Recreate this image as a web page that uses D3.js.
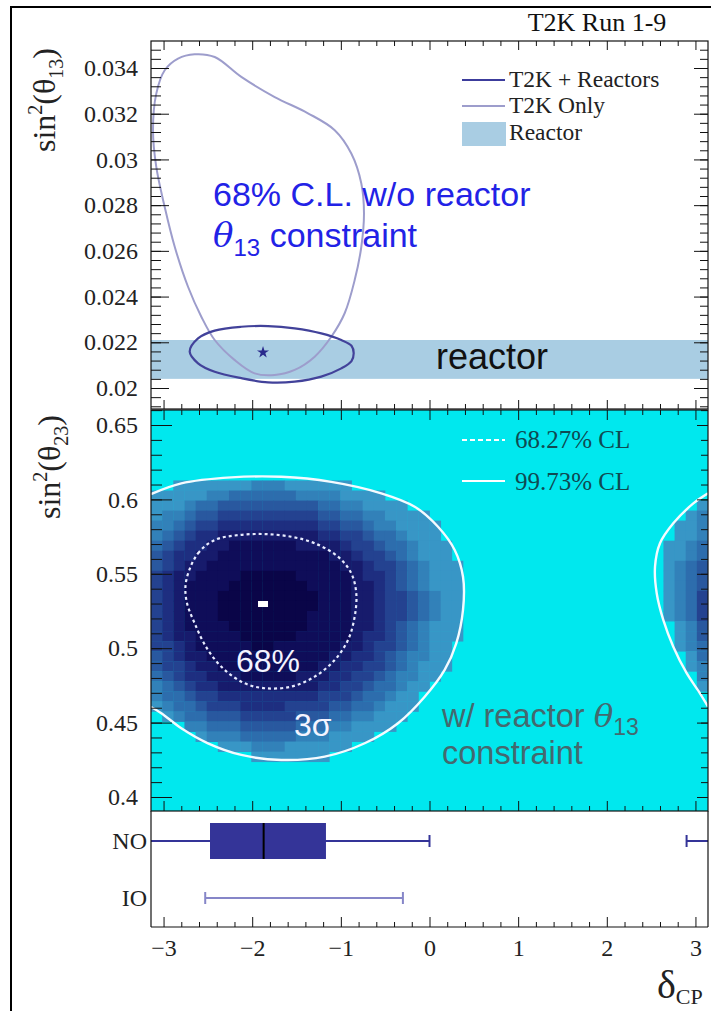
<!DOCTYPE html>
<html>
<head>
<meta charset="utf-8">
<script src="https://cdn.jsdelivr.net/npm/d3@7/dist/d3.min.js"></script>
<style>
  body { margin: 0; background: #fff; }
  svg text { font-family: "Liberation Serif", "Times New Roman", serif; }
  svg .sans { font-family: "Liberation Sans", Arial, sans-serif; }
</style>
</head>
<body>
<div id="chart"></div>
<script>
// ---- data ----

// shared x axis: delta_CP
var xTicks = [-3, -2, -1, 0, 1, 2, 3];
var xTickLabels = ["\u22123", "\u22122", "\u22121", "0", "1", "2", "3"];

// top panel: sin^2(theta13)
var s13Ticks = [0.02, 0.022, 0.024, 0.026, 0.028, 0.03, 0.032, 0.034];
var s13Labels = ["0.02", "0.022", "0.024", "0.026", "0.028", "0.03", "0.032", "0.034"];
var reactorBand = [0.0204, 0.0221];
var t2kOnlyDelta = [-2.649, -2.423, -2.123, -1.746, -1.371, -1.069, -0.882, -0.769, -0.739, -0.769, -0.844, -0.957, -1.108, -1.295,
                    -1.521, -1.746, -1.972, -2.197, -2.423, -2.574, -2.724, -2.874, -2.987, -3.082, -3.119, -3.082, -2.987, -2.837];
var t2kOnlySin13 = [0.0346, 0.03448, 0.03361, 0.03273, 0.03202, 0.03128, 0.03026, 0.02895, 0.02765, 0.02618, 0.02472, 0.02327, 0.02224, 0.02137,
                    0.02079, 0.02057, 0.02064, 0.02122, 0.0221, 0.02312, 0.02443, 0.02618, 0.02792, 0.02967, 0.03128, 0.03288, 0.0339, 0.03441];
var t2kReacDelta = [-2.705, -2.611, -2.423, -2.123, -1.822, -1.521, -1.221, -0.995, -0.88, -0.855, -0.88, -0.995, -1.221, -1.521, -1.822, -2.123, -2.423, -2.611];
var t2kReacSin13 = [0.02159, 0.02217, 0.02251, 0.02268, 0.02271, 0.02261, 0.02239, 0.0221, 0.02185, 0.02152, 0.02118, 0.02086, 0.0205, 0.02028, 0.02025, 0.02043, 0.02071, 0.02108];
var bestFit13 = [-1.878, 0.02156];

// middle panel: sin^2(theta23)
var s23Ticks = [0.4, 0.45, 0.5, 0.55, 0.6, 0.65];
var s23Labels = ["0.4", "0.45", "0.5", "0.55", "0.6", "0.65"];
var cl68Delta = [-2.743, -2.611, -2.423, -2.160, -1.859, -1.559, -1.295, -1.032, -0.882, -0.826, -0.844, -0.919, -1.069, -1.295,
                 -1.559, -1.859, -2.085, -2.310, -2.499, -2.649, -2.743];
var cl68Sin23 = [0.5458, 0.5638, 0.5727, 0.5760, 0.5767, 0.5749, 0.5705, 0.5615, 0.5503, 0.5369, 0.5212, 0.5055, 0.4921, 0.4809,
                 0.4742, 0.4731, 0.4764, 0.4854, 0.4988, 0.5167, 0.5324];
var cl3sLeftDelta = [-3.1416, -2.800, -2.236, -1.672, -1.108, -0.544, -0.167, 0.096, 0.284, 0.378, 0.378, 0.302, 0.171, -0.054,
                     -0.355, -0.731, -1.182, -1.672, -2.123, -2.499, -2.800, -3.025, -3.1416];
var cl3sLeftSin23 = [0.6036, 0.6108, 0.6148, 0.6152, 0.6118, 0.6041, 0.5951, 0.5816, 0.5660, 0.5480, 0.5257, 0.5033, 0.4854, 0.4674,
                     0.4496, 0.4361, 0.4271, 0.4249, 0.4283, 0.4361, 0.4462, 0.4563, 0.4605];
var cl3sRightDelta = [3.1416, 2.976, 2.750, 2.600, 2.544, 2.563, 2.637, 2.750, 2.901, 3.051, 3.1416];
var cl3sRightSin23 = [0.6041, 0.5973, 0.5839, 0.5705, 0.5548, 0.5369, 0.5190, 0.5010, 0.4832, 0.4697, 0.4607];
var bestFit23 = [-1.878, 0.5297];

// heat map: 50 x 40 bins, [row, first column, shade level per column] (1 = light edge, 9 = darkest)
var heatRows = [
  [32, 2, "1111111222111111"],
  [31, 0, "111112233333322221111"],
  [30, 0, "11123344444444433221111"], [30, 49, "1"],
  [29, 0, "1223445555555554433221111"], [29, 48, "12"],
  [28, 0, "22345566666666655443221111"], [28, 47, "112"],
  [27, 0, "23456677777777766554332111"], [27, 47, "112"],
  [26, 0, "345667788888877776554332111"], [26, 46, "1123"],
  [25, 0, "456677888888888877655432111"], [25, 46, "1123"],
  [24, 0, "4567788888888888877655432111"], [24, 46, "1234"],
  [23, 0, "5677888899999888887665432111"], [23, 46, "1234"],
  [22, 0, "5678888999999988887765432111"], [22, 46, "1234"],
  [21, 0, "5678889999999998887765543211"], [21, 46, "1235"],
  [20, 0, "5678889999999998887765543211"], [20, 46, "1235"],
  [19, 0, "5678889999999988887765543211"], [19, 46, "1235"],
  [18, 0, "5678888999999988887765432111"], [18, 47, "124"],
  [17, 0, "5677888899999888887665432111"], [17, 47, "124"],
  [16, 0, "556788888998888887765543211"], [16, 47, "123"],
  [15, 0, "456778888888888877665432211"], [15, 48, "13"],
  [14, 0, "455677888888888776655432111"], [14, 48, "12"],
  [13, 0, "34566777888887776655432211"], [13, 49, "2"],
  [12, 0, "2345667777777776655433211"], [12, 49, "1"],
  [11, 0, "233455666666666555433211"],
  [10, 0, "123345556666555544332111"],
  [9, 1, "1233444555554443322111"],
  [8, 3, "2233344444333221111"],
  [7, 4, "1222333332221111"],
  [6, 6, "111222111111"],
  [5, 9, "1111111"]
];
var palette = ["#3896c6", "#3281b9", "#2d6dad", "#29589f", "#244290", "#1e2e80", "#171b6c", "#0f0d59", "#0a0548"];

// bottom panel: delta_CP intervals per mass ordering
var orderings = ["NO", "IO"];
var noBox = [-2.476, -1.871, -1.168];            // q1, median, q3
var noWhiskers = [[-Math.PI, 0.0], [2.90, Math.PI]];
var ioWhiskers = [[-2.53, -0.30]];

// ---- layout ----
var svgWidth = 711, svgHeight = 1011;
var left = 151, right = 708;
var p1 = {top: 41, bottom: 409};
var p2 = {top: 410, bottom: 811};
var p3 = {top: 811, bottom: 927};

var svg = d3.select("#chart").append("svg")
  .attr("width", svgWidth)
  .attr("height", svgHeight);

svg.append("rect").attr("width", svgWidth).attr("height", svgHeight).attr("fill", "#fff");
svg.append("rect")
  .attr("x", 11).attr("y", 7).attr("width", 730).attr("height", 1030)
  .attr("fill", "none").attr("stroke", "#000").attr("stroke-width", 2);

// scales
var x = d3.scaleLinear().domain([-Math.PI, Math.PI]).range([left, right]);
var y13 = d3.scaleLinear().domain([0.02, 0.034]).range([388, 68]);
var y23 = d3.scaleLinear().domain([0.4, 0.65]).range([797, 425]);
var yOrd = d3.scalePoint().domain(orderings).range([841, 898]);

var xMinor = d3.range(-16, 17).map(function(i) { return i / 5; })
  .filter(function(v) { return Math.abs(v) <= Math.PI && Math.round(v) !== v; });
var s13Minor = d3.range(48, 89).map(function(i) { return i * 0.0004; })
  .filter(function(v) { return y13(v) > p1.top && y13(v) < p1.bottom; });
var s23Minor = d3.range(39, 67).map(function(i) { return i / 100; })
  .filter(function(v) { return y23(v) > p2.top && y23(v) < p2.bottom; });

var defs = svg.append("defs");
defs.append("clipPath").attr("id", "clip1").append("rect")
  .attr("x", left).attr("y", p1.top).attr("width", right - left).attr("height", p1.bottom - p1.top);
defs.append("clipPath").attr("id", "clip2").append("rect")
  .attr("x", left).attr("y", p2.top).attr("width", right - left).attr("height", p2.bottom - p2.top);

var line13 = d3.line()
  .x(function(d) { return x(d[0]); })
  .y(function(d) { return y13(d[1]); })
  .curve(d3.curveCatmullRomClosed.alpha(0.5));
var line23Closed = d3.line()
  .x(function(d) { return x(d[0]); })
  .y(function(d) { return y23(d[1]); })
  .curve(d3.curveCatmullRomClosed.alpha(0.5));
var line23Open = d3.line()
  .x(function(d) { return x(d[0]); })
  .y(function(d) { return y23(d[1]); })
  .curve(d3.curveCatmullRom.alpha(0.5));

function zip(a, b) { return a.map(function(v, i) { return [v, b[i]]; }); }

// helper for tick rows
function ticks(g, axis, values, size, tx, ty) {
  var t = g.append("g")
    .attr("transform", "translate(" + tx + "," + ty + ")")
    .call(axis.tickValues(values).tickSize(size).tickFormat(""));
  t.select(".domain").remove();
  t.selectAll("line").attr("stroke", "#111").attr("stroke-width", 1);
  return t;
}

// ================= top panel =================
var topG = svg.append("g");
var topPlot = topG.append("g").attr("clip-path", "url(#clip1)");

topPlot.append("rect")
  .attr("x", left).attr("width", right - left)
  .attr("y", y13(reactorBand[1]))
  .attr("height", y13(reactorBand[0]) - y13(reactorBand[1]))
  .attr("fill", "#a9cde3");

topPlot.append("path")
  .attr("d", line13(zip(t2kOnlyDelta, t2kOnlySin13)))
  .attr("fill", "none").attr("stroke", "#9d9dcc").attr("stroke-width", 2);

topPlot.append("path")
  .attr("d", line13(zip(t2kReacDelta, t2kReacSin13)))
  .attr("fill", "none").attr("stroke", "#42429a").attr("stroke-width", 2.2);

topPlot.append("path")
  .attr("d", d3.symbol().type(d3.symbolStar).size(45)())
  .attr("transform", "translate(" + x(bestFit13[0]) + "," + y13(bestFit13[1]) + ")")
  .attr("fill", "#2a2a8c");

// top panel texts
topG.append("text").attr("class", "sans")
  .attr("x", 436).attr("y", 369)
  .style("font-size", "36px").attr("fill", "#111")
  .text("reactor");

topG.append("text").attr("class", "sans")
  .attr("x", 213).attr("y", 206)
  .style("font-size", "34px").attr("fill", "#2222e6")
  .text("68% C.L. w/o reactor");
var blue2 = topG.append("text").attr("class", "sans")
  .attr("x", 213).attr("y", 247)
  .style("font-size", "34px").attr("fill", "#2222e6");
blue2.append("tspan").style("font-style", "italic").attr("font-family", "DejaVu Serif").text("\u03b8");
blue2.append("tspan").attr("dy", 9).style("font-size", "24px").text("13");
blue2.append("tspan").attr("dy", -9).text(" constraint");

// legend
var legItems = [
  {label: "T2K + Reactors", y: 80, base: 87, color: "#3c3c9c", type: "line"},
  {label: "T2K Only", y: 106, base: 113, color: "#9d9dcc", type: "line"},
  {label: "Reactor", y: 134, base: 140, color: "#a9cde3", type: "box"}
];
legItems.forEach(function(d) {
  if (d.type === "line") {
    topG.append("line").attr("x1", 462).attr("x2", 505).attr("y1", d.y).attr("y2", d.y)
      .attr("stroke", d.color).attr("stroke-width", 2.2);
  } else {
    topG.append("rect").attr("x", 462).attr("y", 122).attr("width", 44).attr("height", 24).attr("fill", d.color);
  }
  topG.append("text").attr("x", 509).attr("y", d.base)
    .style("font-size", "23.5px").attr("fill", "#222").text(d.label);
});

topG.append("text").attr("x", 597).attr("y", 31).attr("text-anchor", "middle")
  .style("font-size", "26px").attr("fill", "#111").text("T2K Run 1-9");

// top ticks
ticks(topG, d3.axisTop(x), xTicks, -9, 0, p1.top);
ticks(topG, d3.axisTop(x), xMinor, -5, 0, p1.top);
ticks(topG, d3.axisBottom(x), xTicks, -9, 0, p1.bottom);
ticks(topG, d3.axisBottom(x), xMinor, -5, 0, p1.bottom);
ticks(topG, d3.axisRight(y13), s13Ticks, -14, right, 0);
ticks(topG, d3.axisRight(y13), s13Minor, -8, right, 0);
ticks(topG, d3.axisLeft(y13), s13Minor, -10, left, 0);

var yAx1 = topG.append("g").attr("transform", "translate(" + left + ",0)")
  .call(d3.axisLeft(y13).tickValues(s13Ticks).tickSize(-18).tickPadding(13)
    .tickFormat(function(d, i) { return s13Labels[i]; }));
yAx1.select(".domain").remove();
yAx1.selectAll("line").attr("stroke", "#111");
yAx1.selectAll("text").style("font-size", "24px").attr("fill", "#222")
  .attr("font-family", "Liberation Serif");

topG.append("rect").attr("x", left).attr("y", p1.top)
  .attr("width", right - left).attr("height", p1.bottom - p1.top)
  .attr("fill", "none").attr("stroke", "#111").attr("stroke-width", 1.2);

var title1 = topG.append("text")
  .attr("transform", "translate(55,100) rotate(-90)")
  .attr("text-anchor", "middle").style("font-size", "32px").attr("fill", "#222");
title1.append("tspan").text("sin");
title1.append("tspan").attr("dy", -13).style("font-size", "20px").text("2");
title1.append("tspan").attr("dy", 13).text("(\u03b8");
title1.append("tspan").attr("dy", 8).style("font-size", "20px").text("13");
title1.append("tspan").attr("dy", -8).text(")");

// ================= middle panel =================
var mid = svg.append("g");
var midPlot = mid.append("g").attr("clip-path", "url(#clip2)");

midPlot.append("rect")
  .attr("x", left).attr("y", p2.top)
  .attr("width", right - left).attr("height", p2.bottom - p2.top)
  .attr("fill", "#00e8ee");

var nCols = 50, nRows = 40;
var binW = 2 * Math.PI / nCols, binH = (0.66 - 0.39) / nRows;
var cells = [];
heatRows.forEach(function(r) {
  r[2].split("").forEach(function(ch, i) {
    cells.push({row: r[0], col: r[1] + i, level: +ch});
  });
});

midPlot.selectAll("rect.cell")
  .data(cells)
  .enter()
  .append("rect")
  .attr("class", "cell")
  .attr("x", function(d) { return x(-Math.PI + d.col * binW); })
  .attr("width", function(d) { return x(-Math.PI + (d.col + 1) * binW) - x(-Math.PI + d.col * binW) + 0.4; })
  .attr("y", function(d) { return y23(0.39 + (d.row + 1) * binH); })
  .attr("height", function(d) { return y23(0.39 + d.row * binH) - y23(0.39 + (d.row + 1) * binH) + 0.4; })
  .attr("fill", function(d) { return palette[d.level - 1]; });

midPlot.append("path")
  .attr("d", line23Open(zip(cl3sLeftDelta, cl3sLeftSin23)))
  .attr("fill", "none").attr("stroke", "#f4fbff").attr("stroke-width", 2.4);
midPlot.append("path")
  .attr("d", line23Open(zip(cl3sRightDelta, cl3sRightSin23)))
  .attr("fill", "none").attr("stroke", "#f4fbff").attr("stroke-width", 2.4);
midPlot.append("path")
  .attr("d", line23Closed(zip(cl68Delta, cl68Sin23)))
  .attr("fill", "none").attr("stroke", "#e8ecff").attr("stroke-width", 2.2)
  .attr("stroke-dasharray", "3,3");

midPlot.append("rect")
  .attr("x", x(bestFit23[0]) - 5).attr("y", y23(bestFit23[1]) - 3)
  .attr("width", 10).attr("height", 6).attr("fill", "#fff");

mid.append("text").attr("class", "sans")
  .attr("x", 236).attr("y", 672).style("font-size", "32px").attr("fill", "#f4f4ff").text("68%");
mid.append("text").attr("class", "sans")
  .attr("x", 294).attr("y", 736).style("font-size", "32px").attr("fill", "#f4f4ff").text("3\u03c3");

var grey1 = mid.append("text").attr("class", "sans")
  .attr("x", 442).attr("y", 727).style("font-size", "32.5px").attr("fill", "#44696f");
grey1.append("tspan").text("w/ reactor ");
grey1.append("tspan").style("font-style", "italic").attr("font-family", "DejaVu Serif").text("\u03b8");
grey1.append("tspan").attr("dy", 8).style("font-size", "23px").text("13");
mid.append("text").attr("class", "sans")
  .attr("x", 442).attr("y", 764).style("font-size", "32.5px").attr("fill", "#44696f").text("constraint");

// middle legend
mid.append("line").attr("x1", 462).attr("x2", 505).attr("y1", 440).attr("y2", 440)
  .attr("stroke", "#fff").attr("stroke-width", 2).attr("stroke-dasharray", "5,3");
mid.append("line").attr("x1", 462).attr("x2", 505).attr("y1", 481).attr("y2", 481)
  .attr("stroke", "#fff").attr("stroke-width", 2.2);
mid.append("text").attr("x", 515).attr("y", 448).style("font-size", "25px").attr("fill", "#0f4a52").text("68.27% CL");
mid.append("text").attr("x", 515).attr("y", 490).style("font-size", "25px").attr("fill", "#0f4a52").text("99.73% CL");

// middle ticks
ticks(mid, d3.axisTop(x), xTicks, -10, 0, p2.top);
ticks(mid, d3.axisTop(x), xMinor, -5, 0, p2.top);
ticks(mid, d3.axisBottom(x), xTicks, -10, 0, p2.bottom);
ticks(mid, d3.axisBottom(x), xMinor, -5, 0, p2.bottom);
ticks(mid, d3.axisRight(y23), s23Ticks, -11, right, 0);
ticks(mid, d3.axisRight(y23), s23Minor, -7, right, 0);
ticks(mid, d3.axisLeft(y23), s23Minor, -11, left, 0);

var yAx2 = mid.append("g").attr("transform", "translate(" + left + ",0)")
  .call(d3.axisLeft(y23).tickValues(s23Ticks).tickSize(-21).tickPadding(13)
    .tickFormat(function(d, i) { return s23Labels[i]; }));
yAx2.select(".domain").remove();
yAx2.selectAll("line").attr("stroke", "#111");
yAx2.selectAll("text").style("font-size", "24px").attr("fill", "#222")
  .attr("font-family", "Liberation Serif");

mid.append("rect").attr("x", left).attr("y", p2.top)
  .attr("width", right - left).attr("height", p2.bottom - p2.top)
  .attr("fill", "none").attr("stroke", "#111").attr("stroke-width", 1.2);

var title2 = mid.append("text")
  .attr("transform", "translate(60,467) rotate(-90)")
  .attr("text-anchor", "middle").style("font-size", "32px").attr("fill", "#222");
title2.append("tspan").text("sin");
title2.append("tspan").attr("dy", -13).style("font-size", "20px").text("2");
title2.append("tspan").attr("dy", 13).text("(\u03b8");
title2.append("tspan").attr("dy", 8).style("font-size", "20px").text("23");
title2.append("tspan").attr("dy", -8).text(")");

// ================= bottom panel =================
var bot = svg.append("g");
var noY = yOrd("NO"), ioY = yOrd("IO");
var noColor = "#343498", ioColor = "#8686c8";

noWhiskers.forEach(function(w) {
  bot.append("line").attr("x1", x(w[0])).attr("x2", x(w[1])).attr("y1", noY).attr("y2", noY)
    .attr("stroke", noColor).attr("stroke-width", 2);
});
// caps at the inner ends
[noWhiskers[0][1], noWhiskers[1][0]].forEach(function(v) {
  bot.append("line").attr("x1", x(v)).attr("x2", x(v)).attr("y1", noY - 6).attr("y2", noY + 6)
    .attr("stroke", noColor).attr("stroke-width", 2);
});
bot.append("rect")
  .attr("x", x(noBox[0])).attr("width", x(noBox[2]) - x(noBox[0]))
  .attr("y", noY - 18).attr("height", 36)
  .attr("fill", noColor);
bot.append("line").attr("x1", x(noBox[1])).attr("x2", x(noBox[1]))
  .attr("y1", noY - 18).attr("y2", noY + 18).attr("stroke", "#000").attr("stroke-width", 2);

ioWhiskers.forEach(function(w) {
  bot.append("line").attr("x1", x(w[0])).attr("x2", x(w[1])).attr("y1", ioY).attr("y2", ioY)
    .attr("stroke", ioColor).attr("stroke-width", 2);
  w.forEach(function(v) {
    bot.append("line").attr("x1", x(v)).attr("x2", x(v)).attr("y1", ioY - 6).attr("y2", ioY + 6)
      .attr("stroke", ioColor).attr("stroke-width", 2);
  });
});

var ordAx = bot.append("g").attr("transform", "translate(" + left + ",0)")
  .call(d3.axisLeft(yOrd).tickSize(0).tickPadding(4));
ordAx.select(".domain").remove();
ordAx.selectAll("text").style("font-size", "24px").attr("fill", "#222")
  .attr("font-family", "Liberation Serif");

ticks(bot, d3.axisBottom(x), xMinor, -5, 0, p3.bottom);
var xAx = bot.append("g").attr("transform", "translate(0," + p3.bottom + ")")
  .call(d3.axisBottom(x).tickValues(xTicks).tickSize(-10).tickPadding(12)
    .tickFormat(function(d, i) { return xTickLabels[i]; }));
xAx.select(".domain").remove();
xAx.selectAll("line").attr("stroke", "#111");
xAx.selectAll("text").style("font-size", "24px").attr("fill", "#222")
  .attr("font-family", "Liberation Serif");

bot.append("line").attr("x1", left).attr("x2", left).attr("y1", p3.top).attr("y2", p3.bottom).attr("stroke", "#111").attr("stroke-width", 1.2);
bot.append("line").attr("x1", right).attr("x2", right).attr("y1", p3.top).attr("y2", p3.bottom).attr("stroke", "#111").attr("stroke-width", 1.2);
bot.append("line").attr("x1", left).attr("x2", right).attr("y1", p3.bottom).attr("y2", p3.bottom).attr("stroke", "#111").attr("stroke-width", 1.2);

var xTitle = bot.append("text").attr("x", 657).attr("y", 998).attr("fill", "#222").style("font-size", "40px");
xTitle.append("tspan").text("\u03b4");
xTitle.append("tspan").attr("dy", 6).style("font-size", "22px").text("CP");
</script>
</body>
</html>
